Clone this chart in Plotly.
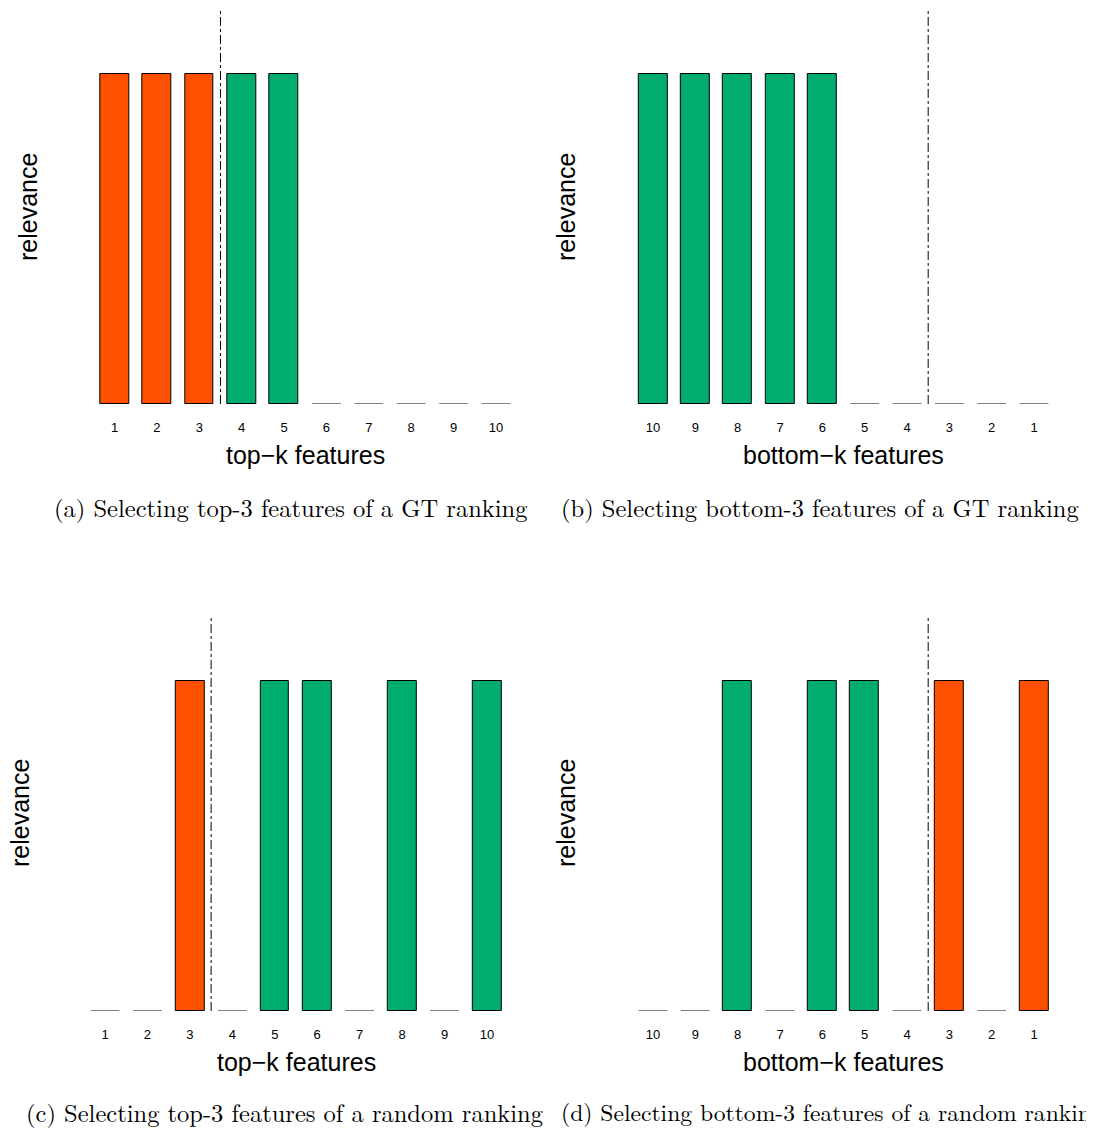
import plotly.graph_objects as go

# page has an 8px body margin: figure occupies viewport pixels (8..1094, 8..1129)
OX, OY = 8, 8
W, H = 1094 - OX, 1129 - OY

# ---- data ----
pos = list(range(1, 11))
labels_top = ["1", "2", "3", "4", "5", "6", "7", "8", "9", "10"]
labels_bottom = ["10", "9", "8", "7", "6", "5", "4", "3", "2", "1"]

rel_a = [1, 1, 1, 1, 1, 0, 0, 0, 0, 0]
sel_a = [1, 1, 1, 0, 0, 0, 0, 0, 0, 0]
rel_b = [1, 1, 1, 1, 1, 0, 0, 0, 0, 0]
sel_b = [0, 0, 0, 0, 0, 0, 0, 0, 0, 0]
rel_c = [0, 0, 1, 0, 1, 1, 0, 1, 0, 1]
sel_c = [0, 0, 1, 0, 0, 0, 0, 0, 0, 0]
rel_d = [0, 0, 1, 0, 1, 1, 0, 1, 0, 1]
sel_d = [0, 0, 0, 0, 0, 0, 0, 1, 0, 1]

cut_a, cut_b, cut_c, cut_d = 3.5, 7.5, 3.5, 7.5

xtitles = ["top\u2212k features", "bottom\u2212k features", "top\u2212k features", "bottom\u2212k features"]
captions = ["(a) Selecting top-3 features of a GT ranking",
            "(b) Selecting bottom-3 features of a GT ranking",
            "(c) Selecting top-3 features of a random ranking",
            "(d) Selecting bottom-3 features of a random ranking"]

ORANGE = "#FF5000"
GREEN = "#00AD6E"
BARW = 0.68
YMAX = 1.2


def px(x):
    return (x - OX) / W


def py(y):
    return 1 - (y - OY) / H


panels = [
    dict(rel=rel_a, sel=sel_a, labels=labels_top, cut=cut_a, xdom=(93.3, 517.2), ydom=(404, 8),
         ytx=28, yty=207, xtx=305, xty=455, capx=290.5, capy=506, capanchor="center", capsize=24.5),
    dict(rel=rel_b, sel=sel_b, labels=labels_bottom, cut=cut_b, xdom=(631.8, 1055.2), ydom=(404, 8),
         ytx=566, yty=207, xtx=843, xty=455, capx=820, capy=506, capanchor="center", capsize=24.5),
    dict(rel=rel_c, sel=sel_c, labels=labels_top, cut=cut_c, xdom=(83.8, 508.2), ydom=(1011, 615),
         ytx=20, yty=813, xtx=296, xty=1062, capx=284, capy=1111, capanchor="center", capsize=24.5),
    dict(rel=rel_d, sel=sel_d, labels=labels_bottom, cut=cut_d, xdom=(631.8, 1055.2), ydom=(1011, 615),
         ytx=566, yty=813, xtx=843, xty=1062, capx=559, capy=1111, capanchor="left", capsize=23.6),
]

fig = go.Figure()
shapes = []
annotations = []
SANS = "Liberation Sans, Arial, sans-serif"
SERIF = "Latin Modern Roman, CMU Serif, Computer Modern, serif"

for i, p in enumerate(panels):
    n = i + 1
    xa = "x" if n == 1 else f"x{n}"
    ya = "y" if n == 1 else f"y{n}"
    xk = "xaxis" if n == 1 else f"xaxis{n}"
    yk = "yaxis" if n == 1 else f"yaxis{n}"

    xs = [x for x, v in zip(pos, p["rel"]) if v > 0]
    ys = [v for v in p["rel"] if v > 0]
    cols = [ORANGE if s else GREEN for v, s in zip(p["rel"], p["sel"]) if v > 0]
    fig.add_trace(go.Bar(x=xs, y=ys, width=BARW, marker=dict(color=cols, line=dict(color="black", width=1)),
                         xaxis=xa, yaxis=ya, showlegend=False, hoverinfo="skip"))
    # zero-relevance bars drawn as flat outlines
    lx, ly = [], []
    for x, v in zip(pos, p["rel"]):
        if v == 0:
            lx += [x - BARW / 2, x + BARW / 2, None]
            ly += [0, 0, None]
    fig.add_trace(go.Scatter(x=lx, y=ly, mode="lines", line=dict(color="black", width=1),
                             xaxis=xa, yaxis=ya, showlegend=False, hoverinfo="skip"))

    fig.layout[xk] = dict(domain=[px(p["xdom"][0]), px(p["xdom"][1])], range=[0.5, 10.5],
                          tickmode="array", tickvals=pos, ticktext=p["labels"],
                          ticks="outside", ticklen=11, tickcolor="rgba(0,0,0,0)",
                          showgrid=False, zeroline=False, showline=False,
                          tickfont=dict(family=SANS, size=13, color="black"), anchor=ya)
    fig.layout[yk] = dict(domain=[py(p["ydom"][0]), py(p["ydom"][1])], range=[0, YMAX],
                          showticklabels=False, showgrid=False, zeroline=False, showline=False,
                          ticks="", anchor=xa)

    shapes.append(dict(type="line", xref=xa, yref=ya, x0=p["cut"], x1=p["cut"], y0=0, y1=YMAX,
                       line=dict(color="black", width=1, dash="dashdot")))

    annotations.append(dict(text="relevance", x=px(p["ytx"]), y=py(p["yty"]), xref="paper", yref="paper",
                            showarrow=False, textangle=-90, font=dict(family=SANS, size=25, color="black"),
                            xanchor="center", yanchor="middle"))
    annotations.append(dict(text=xtitles[i], x=px(p["xtx"]), y=py(p["xty"]), xref="paper", yref="paper",
                            showarrow=False, font=dict(family=SANS, size=25, color="black"),
                            xanchor="center", yanchor="middle"))
    annotations.append(dict(text=captions[i], x=px(p["capx"]), y=py(p["capy"]), xref="paper", yref="paper",
                            showarrow=False, font=dict(family=SERIF, size=p["capsize"], color="black"),
                            xanchor=p["capanchor"], yanchor="middle"))

fig.update_layout(width=W, height=H, margin=dict(l=0, r=0, t=0, b=0),
                  paper_bgcolor="white", plot_bgcolor="white",
                  shapes=shapes, annotations=annotations, bargap=0)

fig.write_html("out.html")
